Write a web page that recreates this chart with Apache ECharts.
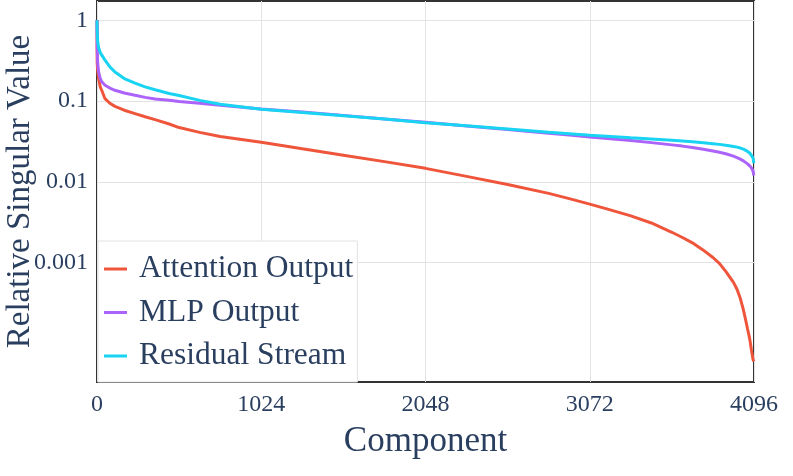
<!DOCTYPE html>
<html>
<head>
<meta charset="utf-8">
<script src="https://cdn.jsdelivr.net/npm/echarts@6/dist/echarts.min.js"></script>
<style>
html,body{margin:0;padding:0;background:#fff;}
#chart{width:793px;height:476px;}
</style>
</head>
<body>
<div id="chart"></div>
<script>
const components = [0, 1, 4, 10, 20, 30, 50, 80, 112, 170, 237, 300, 362, 450, 512, 640, 768, 1024, 1280, 1536, 1792, 2048, 2304, 2560, 2816, 2944, 3072, 3200, 3328, 3456, 3584, 3650, 3712, 3780, 3840, 3880, 3920, 3968, 3990, 4011, 4030, 4042, 4056, 4069, 4080, 4090, 4095];
const attentionOutput = [1, 0.30, 0.24, 0.19, 0.15, 0.135, 0.107, 0.094, 0.086, 0.077, 0.070, 0.064, 0.059, 0.052, 0.047, 0.041, 0.0365, 0.031, 0.0257, 0.0214, 0.0178, 0.0147, 0.0117, 0.0093, 0.0072, 0.0062, 0.0053, 0.0045, 0.0038, 0.0031, 0.00238, 0.00205, 0.00176, 0.00143, 0.00116, 0.00098, 0.00078, 0.00057, 0.00047, 0.00036, 0.00026, 0.000204, 0.000151, 0.000115, 0.000083, 0.000063, 0.00006];
const mlpOutput = [1, 0.45, 0.30, 0.23, 0.19, 0.173, 0.157, 0.145, 0.136, 0.126, 0.118, 0.111, 0.106, 0.102, 0.099, 0.094, 0.089, 0.0795, 0.073, 0.0665, 0.060, 0.0545, 0.049, 0.0445, 0.040, 0.038, 0.036, 0.0342, 0.0325, 0.0306, 0.0287, 0.0277, 0.0266, 0.0253, 0.0241, 0.0232, 0.0223, 0.0208, 0.0200, 0.0191, 0.0182, 0.0175, 0.0167, 0.0158, 0.0149, 0.0136, 0.012];
const residualStream = [1, 0.75, 0.55, 0.46, 0.40, 0.37, 0.32, 0.265, 0.229, 0.19, 0.167, 0.15, 0.138, 0.124, 0.117, 0.102, 0.0915, 0.079, 0.072, 0.066, 0.060, 0.054, 0.0495, 0.0452, 0.0412, 0.0395, 0.0378, 0.0365, 0.0352, 0.034, 0.0327, 0.032, 0.0313, 0.0305, 0.0297, 0.0291, 0.0284, 0.0274, 0.0269, 0.0262, 0.0254, 0.0247, 0.0238, 0.0228, 0.0216, 0.0198, 0.017];
const seriesNames = ['Attention Output', 'MLP Output', 'Residual Stream'];
const seriesColors = ['#EF553B', '#AB63FA', '#19D3F3'];
const xTicks = [0, 1024, 2048, 3072, 4096];
const yTicks = [1, 0.1, 0.01, 0.001];
const yTickLabels = ['1', '0.1', '0.01', '0.001'];

const FONT = "'Liberation Serif', 'Times New Roman', serif";
const TXT = '#2a3f5f';
const allValues = [attentionOutput, mlpOutput, residualStream];

const chart = echarts.init(document.getElementById('chart'), null, {renderer: 'canvas'});
chart.setOption({
  animation: false,
  backgroundColor: '#ffffff',
  grid: {left: 97, right: 39, top: 1, bottom: 94, show: true, borderColor: '#333', borderWidth: 2,
    backgroundColor: 'transparent', containLabel: false, outerBoundsMode: 'none'},
  legend: {
    orient: 'vertical', left: 98, top: 241,
    data: seriesNames,
    icon: 'rect', itemWidth: 23, itemHeight: 3, itemGap: 7.5,
    padding: [10, 4, 8, 6],
    backgroundColor: '#ffffff', borderColor: '#e2e2e2', borderWidth: 1,
    textStyle: {fontFamily: FONT, fontSize: 31.5, color: TXT, lineHeight: 36, padding: [0, 0, 0, 7]}
  },
  xAxis: {
    type: 'value', min: 0, max: 4096, interval: 1024,
    name: 'Component', nameLocation: 'middle', nameGap: 42, nameMoveOverlap: false,
    nameTextStyle: {fontFamily: FONT, fontSize: 35, color: TXT},
    axisLine: {show: false}, axisTick: {show: false, customValues: xTicks},
    axisLabel: {fontFamily: FONT, fontSize: 24, color: TXT, margin: 11, customValues: xTicks,
      formatter: function (v) { return String(Math.round(v)); }},
    splitLine: {show: true, lineStyle: {color: '#e3e3e3', width: 1}}
  },
  yAxis: {
    type: 'log', logBase: 10, min: 3.34e-5, max: 1.73,
    name: 'Relative Singular Value', nameLocation: 'middle', nameGap: 60, nameMoveOverlap: false,
    nameTextStyle: {fontFamily: FONT, fontSize: 33, color: TXT},
    axisLine: {show: false},
    axisTick: {show: false, customValues: yTicks},
    axisLabel: {fontFamily: FONT, fontSize: 24, color: TXT, margin: 9, customValues: yTicks,
      formatter: function (v) { const i = yTicks.findIndex(t => Math.abs(t - v) / t < 1e-6); return i >= 0 ? yTickLabels[i] : ''; }},
    splitLine: {show: true, lineStyle: {color: '#e3e3e3', width: 1}}
  },
  series: seriesNames.map((name, k) => ({
    name: name, type: 'line', showSymbol: false, symbol: 'none',
    smooth: false,
    lineStyle: {color: seriesColors[k], width: 3},
    itemStyle: {color: seriesColors[k]},
    data: components.map((c, i) => [c, allValues[k][i]])
  }))
});
</script>
</body>
</html>
